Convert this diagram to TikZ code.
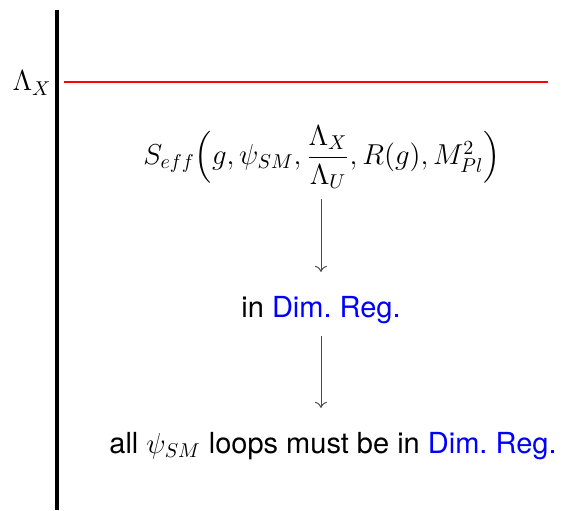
\documentclass[tikz,border=0pt]{standalone}
\usepackage{amsmath}
\usepackage{fontspec}
\setmainfont{TeX Gyre Heros}
\usetikzlibrary{arrows.meta}
\definecolor{dimblue}{RGB}{0,0,255}
\frenchspacing
\tikzset{
  txt/.style={inner sep=0pt, font=\fontsize{14.5}{17}\selectfont},
  flow/.style={draw=black!70, line width=0.5pt, -{To[length=3pt,width=6pt]}},
}
\begin{document}
\frenchspacing
\begin{tikzpicture}[x=0.5pt,y=-0.5pt]
\useasboundingbox (0,0) rectangle (562,510);
\coordinate (vtop) at (57,10);
\coordinate (vbot) at (57,510);
\coordinate (rl) at (64,82);
\coordinate (rr) at (548,82);
\draw[line width=2pt] (vtop) -- (vbot);
\draw[red, line width=1pt] (rl) -- (rr);
\node[txt] (lam) at (32,83) {$\Lambda_X$};
\node[txt] (f) at (322,157) {$S_{eff}\Big(g,\psi_{SM},\dfrac{\Lambda_X}{\Lambda_U},R(g),M_{Pl}^2\Big)$};
\node[txt] (m) at (321,310) {in \textcolor{dimblue}{Dim.\ Reg.}};
\node[txt] (b) at (333,446) {all $\psi_{SM}$ loops must be in \textcolor{dimblue}{Dim.\ Reg.}};
\draw[flow, shorten <=5pt, shorten >=12pt] (f.south -| m.north) -- (m.north);
\draw[flow, shorten <=6pt, shorten >=12pt] (m.south) -- (m.south |- b.north);
\end{tikzpicture}
\end{document}
